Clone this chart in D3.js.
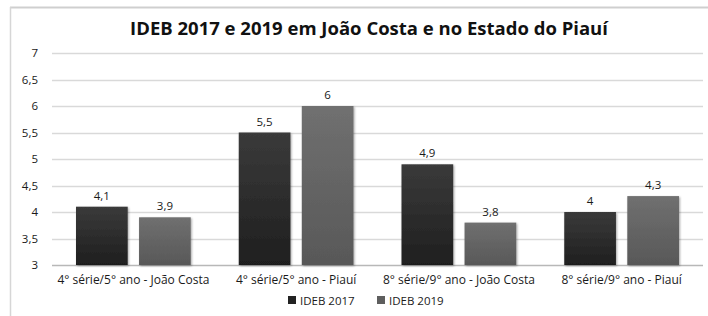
<!DOCTYPE html>
<html>
<head>
<meta charset="utf-8">
<script src="https://cdn.jsdelivr.net/npm/d3@7"></script>
<style>
  body { margin: 0; background: #fff; }
  text { font-family: "Open Sans", "DejaVu Sans", sans-serif; }
</style>
</head>
<body>
<svg id="chart" width="708" height="316"></svg>
<script>
// data
var categories = ["4° série/5° ano - João Costa", "4° série/5° ano - Piauí", "8° série/9° ano - João Costa", "8° série/9° ano - Piauí"];
var series = ["IDEB 2017", "IDEB 2019"];
var ideb2017 = [4.1, 5.5, 4.9, 4.0];
var ideb2019 = [3.9, 6.0, 3.8, 4.3];
var yTicks = [3, 3.5, 4, 4.5, 5, 5.5, 6, 6.5, 7];

var svg = d3.select("#chart");
var width = 708, height = 316;
var margin = {left: 52, right: 5, top: 53, bottom: 51};

var fmt = function(v){ return String(v).replace(".", ","); };

// frame
svg.append("line").attr("x1", 10).attr("x2", width).attr("y1", 7.5).attr("y2", 7.5)
  .attr("stroke", "#cfcfcf").attr("stroke-width", 2);
svg.append("line").attr("x1", 10.5).attr("x2", 10.5).attr("y1", 7).attr("y2", height)
  .attr("stroke", "#d6d6d6").attr("stroke-width", 1.5);

var defs = svg.append("defs");
var grads = [["g0", "#3a3a3a", "#1f1f1f"], ["g1", "#707070", "#585858"]];
grads.forEach(function(g){
  var lg = defs.append("linearGradient").attr("id", g[0]).attr("x1", 0).attr("x2", 0).attr("y1", 0).attr("y2", 1);
  lg.append("stop").attr("offset", "0%").attr("stop-color", g[1]);
  lg.append("stop").attr("offset", "100%").attr("stop-color", g[2]);
});
var shadow = defs.append("filter").attr("id", "sh").attr("x", "-20%").attr("y", "-20%").attr("width", "140%").attr("height", "140%");
shadow.append("feDropShadow").attr("dx", 1).attr("dy", 1).attr("stdDeviation", 1.2).attr("flood-color", "#000").attr("flood-opacity", 0.35);

var x0 = d3.scaleBand().domain(categories).range([margin.left, width - margin.right]).padding(0);
var x1 = d3.scaleBand().domain(series).range([24, x0.bandwidth() - 24]).paddingInner(0.18);
var y = d3.scaleLinear().domain([3, 7]).range([height - margin.bottom, margin.top]);

// title
svg.append("text").attr("x", 369).attr("y", 35).attr("text-anchor", "middle")
  .attr("font-size", 18.5).attr("font-weight", "bold").attr("fill", "#111")
  .text("IDEB 2017 e 2019 em João Costa e no Estado do Piauí");

// grid
svg.append("g").selectAll("line").data(yTicks).join("line")
  .attr("x1", margin.left).attr("x2", width - margin.right)
  .attr("y1", function(d){ return Math.round(y(d)) + 0.5; })
  .attr("y2", function(d){ return Math.round(y(d)) + 0.5; })
  .attr("stroke", function(d){ return d === 3 ? "#b8b8b8" : "#d9d9d9"; })
  .attr("stroke-width", 1.5);

// y axis labels
var yAxis = d3.axisLeft(y).tickValues(yTicks).tickSize(0).tickPadding(14).tickFormat(fmt);
var ya = svg.append("g").attr("transform", "translate(" + margin.left + ",0)").call(yAxis);
ya.select(".domain").remove();
ya.selectAll("text").attr("font-size", 11.5).attr("fill", "#1a1a1a").attr("font-family", "'Open Sans', sans-serif");

// bars
var rows = categories.map(function(c, i){ return {cat: c, vals: [ideb2017[i], ideb2019[i]]}; });
var groups = svg.append("g").selectAll("g").data(rows).join("g")
  .attr("transform", function(d){ return "translate(" + x0(d.cat) + ",0)"; });
groups.selectAll("rect").data(function(d){ return d.vals.map(function(v, j){ return {s: series[j], v: v, j: j}; }); })
  .join("rect")
  .attr("x", function(d){ return x1(d.s); })
  .attr("width", x1.bandwidth())
  .attr("y", function(d){ return y(d.v); })
  .attr("height", function(d){ return y(3) - y(d.v); })
  .attr("fill", function(d){ return "url(#g" + d.j + ")"; })
  .attr("filter", "url(#sh)");
groups.selectAll("text.val").data(function(d){ return d.vals.map(function(v, j){ return {s: series[j], v: v}; }); })
  .join("text").attr("class", "val")
  .attr("x", function(d){ return x1(d.s) + x1.bandwidth() / 2; })
  .attr("y", function(d){ return y(d.v) - 7; })
  .attr("text-anchor", "middle").attr("font-size", 11.5).attr("fill", "#1a1a1a")
  .text(function(d){ return fmt(d.v); });

// x axis labels
var xAxis = d3.axisBottom(x0).tickSize(0).tickPadding(10);
var xa = svg.append("g").attr("transform", "translate(0," + y(3) + ")").call(xAxis);
xa.select(".domain").remove();
xa.selectAll("text").attr("font-size", 12).attr("fill", "#1a1a1a").attr("font-family", "'Open Sans', sans-serif");

// legend
var legendX = [288, 377];
var lg = svg.append("g").selectAll("g").data(series).join("g")
  .attr("transform", function(d, i){ return "translate(" + legendX[i] + ",303)"; });
lg.append("rect").attr("x", 0).attr("y", -7).attr("width", 8).attr("height", 8)
  .attr("fill", function(d, i){ return i === 0 ? "#222" : "#5e5e5e"; });
lg.append("text").attr("x", 12).attr("y", 1.5).attr("font-size", 11.5).attr("fill", "#1a1a1a")
  .text(function(d){ return d; });
</script>
</body>
</html>
